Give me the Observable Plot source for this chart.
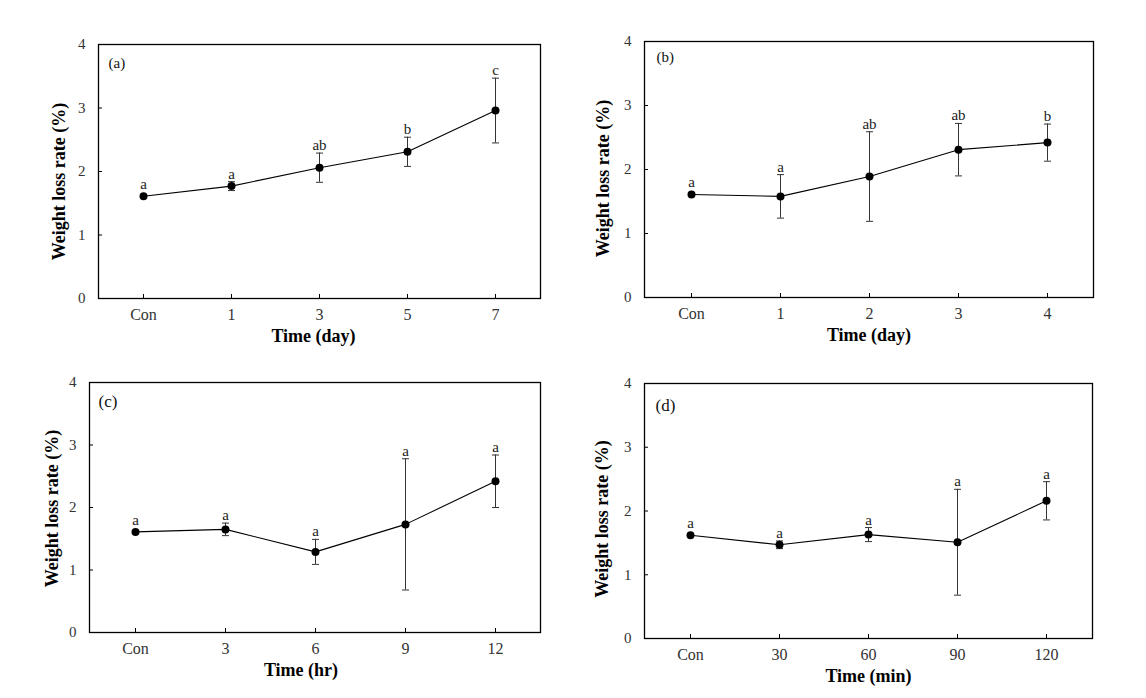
<!DOCTYPE html>
<html>
<head>
<meta charset="utf-8">
<script src="https://cdn.jsdelivr.net/npm/d3@7"></script>
<script src="https://cdn.jsdelivr.net/npm/@observablehq/plot@0.6"></script>
<style>
  html, body { margin: 0; padding: 0; background: #fff; }
  #root { position: relative; width: 1146px; height: 698px; background: #fff; overflow: hidden; }
  .panel { position: absolute; }
</style>
</head>
<body>
<div id="root"></div>
<script>
// ---- Data ----
const yTicks = [0, 1, 2, 3, 4];
const yTitle = "Weight loss rate (%)";

const catsA = ["Con", "1", "3", "5", "7"];
const meanA = [1.61, 1.77, 2.06, 2.31, 2.96];
const errA  = [0.00, 0.07, 0.23, 0.23, 0.51];
const sigA  = ["a", "a", "ab", "b", "c"];

const catsB = ["Con", "1", "2", "3", "4"];
const meanB = [1.61, 1.58, 1.89, 2.31, 2.42];
const errB  = [0.00, 0.34, 0.70, 0.41, 0.29];
const sigB  = ["a", "a", "ab", "ab", "b"];

const catsC = ["Con", "3", "6", "9", "12"];
const meanC = [1.61, 1.65, 1.29, 1.73, 2.42];
const errC  = [0.00, 0.10, 0.20, 1.05, 0.42];
const sigC  = ["a", "a", "a", "a", "a"];

const catsD = ["Con", "30", "60", "90", "120"];
const meanD = [1.62, 1.47, 1.63, 1.51, 2.16];
const errD  = [0.00, 0.06, 0.11, 0.83, 0.30];
const sigD  = ["a", "a", "a", "a", "a"];

// ---- Panel layout ----
const panels = [
  {tag: "(a)", xTitle: "Time (day)", cats: catsA, mean: meanA, err: errA, sig: sigA,
   left: 0, top: 0, ml: 98, mr: 33, mt: 44, mb: 51, tagDx: 10, tagDy: 19, tagSize: 15, xtDx: -6, ytDx: -39, ytDy: 10},
  {tag: "(b)", xTitle: "Time (day)", cats: catsB, mean: meanB, err: errB, sig: sigB,
   left: 573, top: 0, ml: 71, mr: 53, mt: 41, mb: 52, tagDx: 12, tagDy: 16, tagSize: 15, xtDx: 0, ytDx: -41, ytDy: 9},
  {tag: "(c)", xTitle: "Time (hr)", cats: catsC, mean: meanC, err: errC, sig: sigC,
   left: 0, top: 349, ml: 89, mr: 33, mt: 33, mb: 66, tagDx: 9, tagDy: 19, tagSize: 17, xtDx: -14, ytDx: -37, ytDy: 1},
  {tag: "(d)", xTitle: "Time (min)", cats: catsD, mean: meanD, err: errD, sig: sigD,
   left: 573, top: 349, ml: 71, mr: 54, mt: 34, mb: 60, tagDx: 11, tagDy: 22, tagSize: 17, xtDx: 0, ytDx: -42, ytDy: 8}
];

const capSymbol = {
  draw(ctx, size) {
    const w = Math.sqrt(size / Math.PI);
    ctx.moveTo(-w, 0);
    ctx.lineTo(w, 0);
  }
};

const W = 573, H = 349;
const root = document.getElementById("root");

for (const p of panels) {
  const rows = p.cats.map((c, i) => ({
    cat: c, mean: p.mean[i], lo: p.mean[i] - p.err[i], hi: p.mean[i] + p.err[i], sig: p.sig[i], err: p.err[i]
  }));
  const withErr = rows.filter(r => r.err > 0);
  const noErr = rows.filter(r => r.err <= 0);
  const caps = withErr.flatMap(r => [{cat: r.cat, y: r.lo}, {cat: r.cat, y: r.hi}]);
  const fw = W - p.ml - p.mr;
  const fh = H - p.mt - p.mb;

  const chart = Plot.plot({
    width: W,
    height: H,
    marginLeft: p.ml,
    marginRight: p.mr,
    marginTop: p.mt,
    marginBottom: p.mb,
    style: {fontFamily: "'Liberation Serif', 'DejaVu Serif', serif", background: "#fff", overflow: "visible"},
    x: {type: "point", domain: p.cats, padding: 0.5, axis: null},
    y: {domain: [0, 4], axis: null},
    marks: [
      Plot.axisX({tickSize: 0, tickPadding: 10, label: null, fontSize: 16, color: "#333"}),
      Plot.axisY({ticks: yTicks, tickFormat: d => String(d), tickSize: 0, tickPadding: 13, label: null, fontSize: 15, color: "#333"}),
      Plot.tickY([1, 2, 3], {y: d => d, insetRight: fw - 4, stroke: "#000"}),
      Plot.tickX(p.cats, {x: d => d, insetTop: fh - 4, stroke: "#000"}),
      Plot.frame({stroke: "#000", strokeWidth: 1.3}),
      Plot.ruleX(withErr, {x: "cat", y1: "lo", y2: "hi", stroke: "#333", strokeWidth: 1}),
      Plot.dot(caps, {x: "cat", y: "y", symbol: capSymbol, r: 3.5, stroke: "#333", fill: "none", strokeWidth: 1}),
      Plot.line(rows, {x: "cat", y: "mean", stroke: "#000", strokeWidth: 1.1}),
      Plot.dot(rows, {x: "cat", y: "mean", r: 4, fill: "#000", stroke: "none"}),
      Plot.text(withErr, {x: "cat", y: "hi", text: "sig", lineAnchor: "bottom", dy: -3, fontSize: 15, fill: "#222"}),
      Plot.text(noErr, {x: "cat", y: "hi", text: "sig", lineAnchor: "bottom", dy: -7, fontSize: 15, fill: "#222"}),
      Plot.text([p.tag], {text: d => d, frameAnchor: "top-left", dx: p.tagDx, dy: p.tagDy, textAnchor: "start", lineAnchor: "middle", fontSize: p.tagSize, fill: "#111"}),
      Plot.text([p.xTitle], {text: d => d, frameAnchor: "bottom", dx: p.xtDx, dy: 38, textAnchor: "middle", lineAnchor: "middle", fontSize: 18, fontWeight: "bold", fill: "#000"}),
      Plot.text([yTitle], {text: d => d, frameAnchor: "left", rotate: -90, dx: p.ytDx, dy: p.ytDy, textAnchor: "middle", lineAnchor: "middle", fontSize: 18, fontWeight: "bold", fill: "#000"})
    ]
  });

  const div = document.createElement("div");
  div.className = "panel";
  div.style.left = p.left + "px";
  div.style.top = p.top + "px";
  div.appendChild(chart);
  root.appendChild(div);
}
</script>
</body>
</html>
